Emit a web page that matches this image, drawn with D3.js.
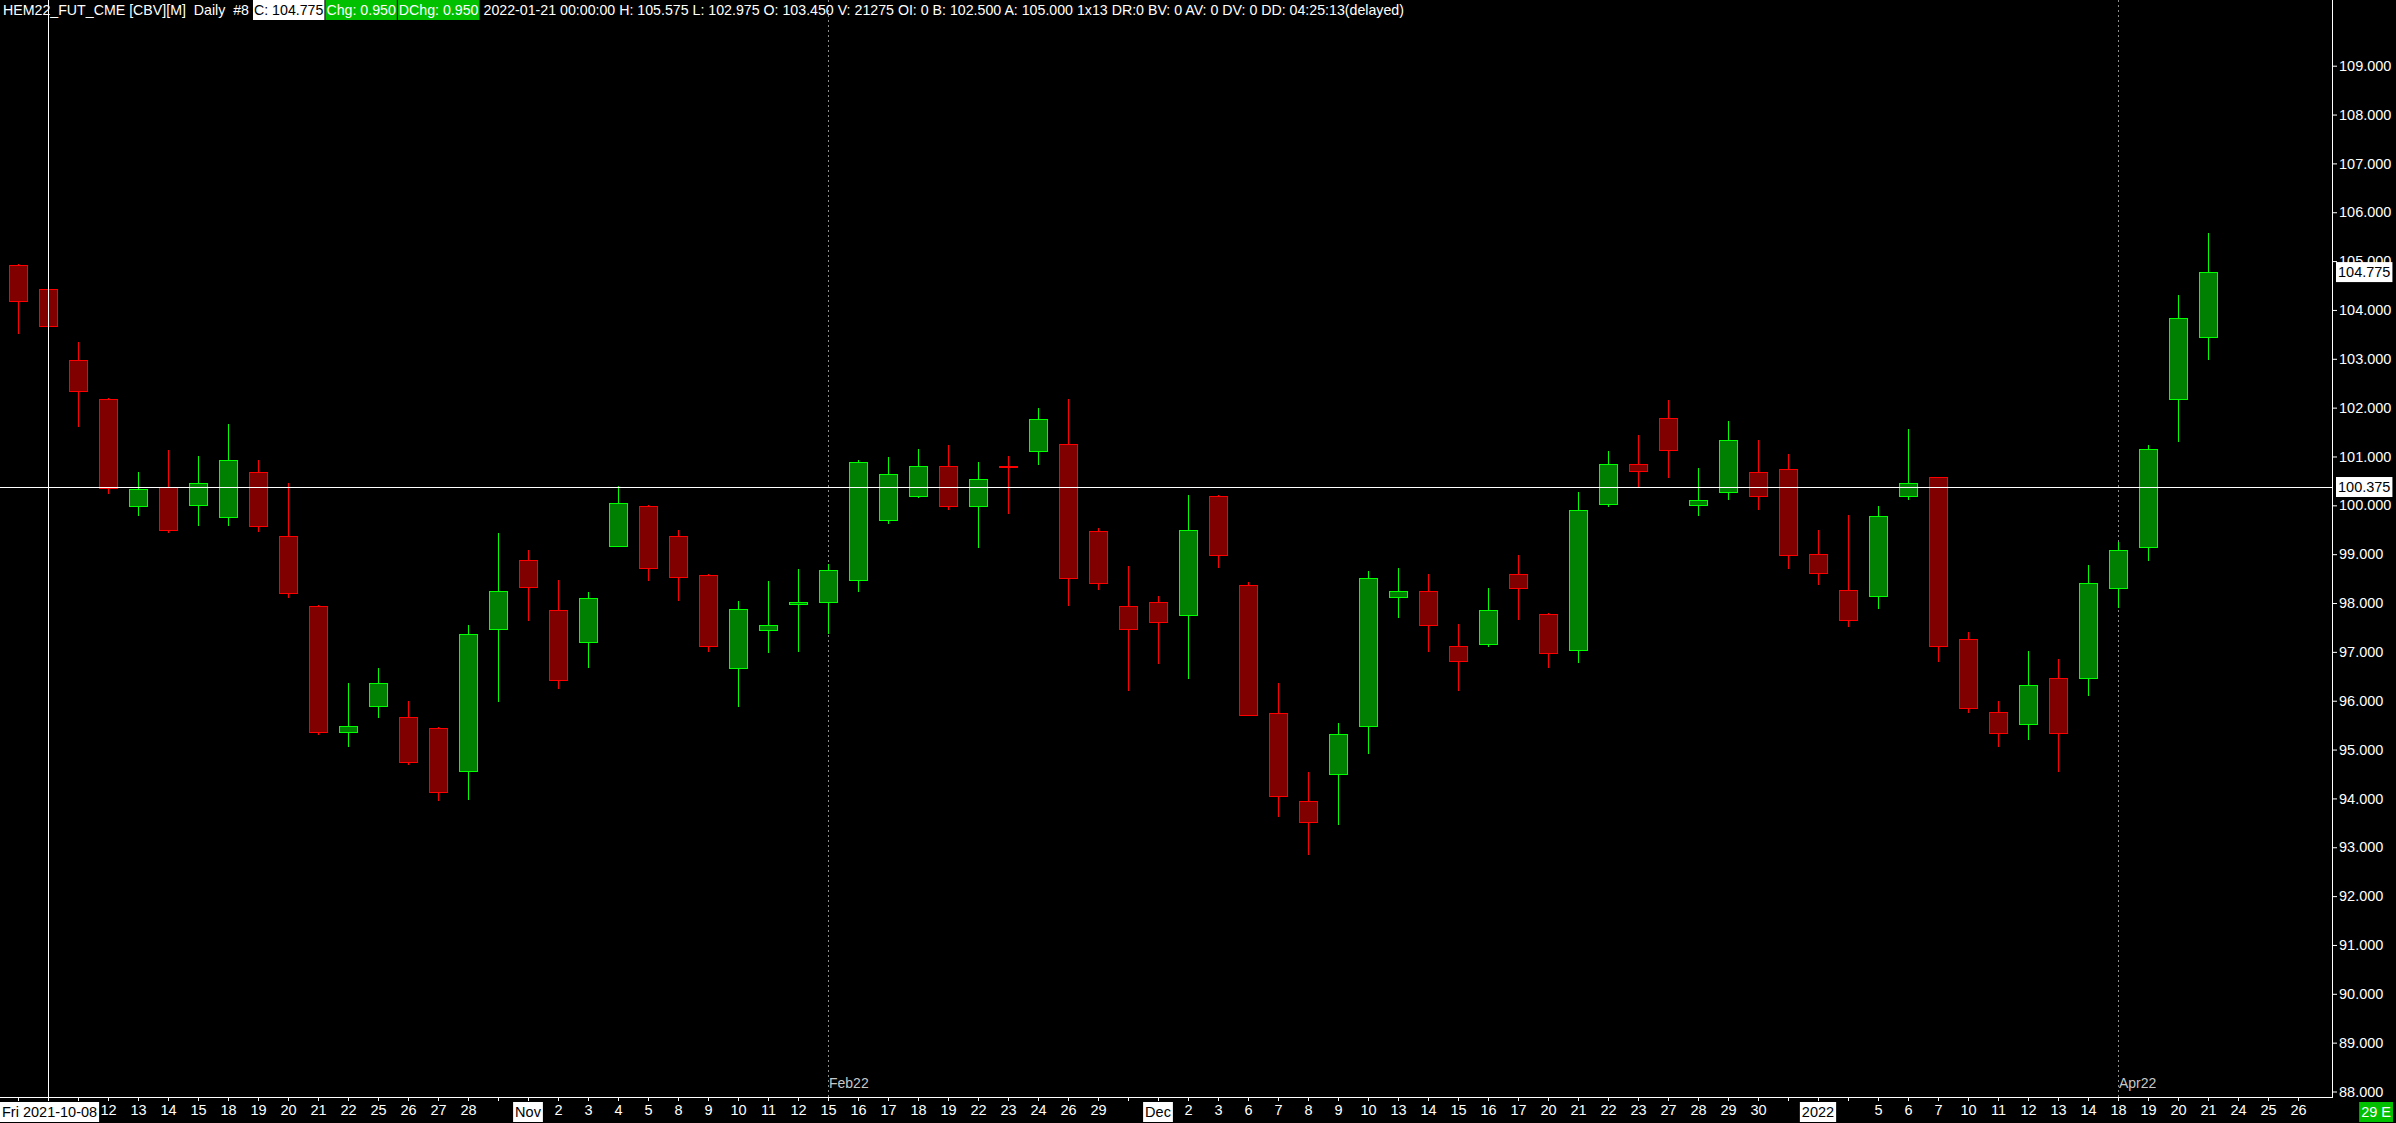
<!DOCTYPE html>
<html>
<head>
<meta charset="utf-8">
<script src="https://cdn.jsdelivr.net/npm/d3@7"></script>
<style>
  body { margin: 0; background: #000; overflow: hidden; }
  text { font-family: "Liberation Sans", Arial, sans-serif; font-size: 14.5px; fill: #fff; }
  .header text { font-size: 14.2px; }
</style>
</head>
<body>
<div id="chart"></div>
<script>
// trading days shown on the chart
const dates = [
  "2021-10-07", "2021-10-08", "2021-10-11", "2021-10-12", "2021-10-13", "2021-10-14", "2021-10-15",
  "2021-10-18", "2021-10-19", "2021-10-20", "2021-10-21", "2021-10-22", "2021-10-25", "2021-10-26",
  "2021-10-27", "2021-10-28", "2021-10-29", "2021-11-01", "2021-11-02", "2021-11-03", "2021-11-04",
  "2021-11-05", "2021-11-08", "2021-11-09", "2021-11-10", "2021-11-11", "2021-11-12", "2021-11-15",
  "2021-11-16", "2021-11-17", "2021-11-18", "2021-11-19", "2021-11-22", "2021-11-23", "2021-11-24",
  "2021-11-26", "2021-11-29", "2021-11-30", "2021-12-01", "2021-12-02", "2021-12-03", "2021-12-06",
  "2021-12-07", "2021-12-08", "2021-12-09", "2021-12-10", "2021-12-13", "2021-12-14", "2021-12-15",
  "2021-12-16", "2021-12-17", "2021-12-20", "2021-12-21", "2021-12-22", "2021-12-23", "2021-12-27",
  "2021-12-28", "2021-12-29", "2021-12-30", "2021-12-31", "2022-01-03", "2022-01-04", "2022-01-05",
  "2022-01-06", "2022-01-07", "2022-01-10", "2022-01-11", "2022-01-12", "2022-01-13", "2022-01-14",
  "2022-01-18", "2022-01-19", "2022-01-20", "2022-01-21"
];

let openP = [
  104.92, 104.43, 102.97, 102.17, 99.98, 100.37, 100.01, 99.77, 100.68, 99.37,
  97.94, 95.35, 95.90, 95.66, 95.45, 94.57, 97.46, 98.88, 97.85, 97.21,
  99.17, 99.98, 99.37, 98.57, 96.66, 97.44, 97.98, 98.03, 98.48, 99.69,
  100.20, 100.80, 99.98, 100.80, 101.12, 101.25, 99.47, 97.93, 98.03, 97.76,
  100.20, 98.36, 95.74, 93.94, 94.49, 95.49, 98.12, 98.24, 97.13, 97.17,
  98.59, 97.77, 97.03, 100.03, 100.84, 101.78, 100.01, 100.27, 100.69, 100.75,
  99.01, 98.26, 98.15, 100.20, 100.57, 97.26, 95.76, 95.52, 96.47, 96.46,
  98.30, 99.14, 102.17, 103.45
];
let highP = [
  104.95, 104.85, 103.34, 102.20, 100.69, 101.13, 101.01, 101.66, 100.93, 100.46,
  97.96, 96.37, 96.67, 95.99, 95.47, 97.55, 99.43, 99.08, 98.47, 98.22,
  100.40, 100.01, 99.50, 98.59, 98.04, 98.45, 98.70, 98.79, 100.93, 100.99,
  101.15, 101.24, 100.89, 101.01, 101.99, 102.18, 99.54, 98.76, 98.14, 100.21,
  100.22, 98.43, 96.37, 94.54, 95.54, 98.66, 98.72, 98.60, 97.57, 98.31,
  98.98, 97.79, 100.27, 101.11, 101.44, 102.15, 100.76, 101.73, 101.34, 101.05,
  99.49, 99.80, 99.99, 101.56, 100.59, 97.41, 95.99, 97.02, 96.86, 98.78,
  99.24, 101.23, 104.30, 105.575
];
let lowP = [
  103.51, 103.60, 101.61, 100.24, 99.79, 99.44, 99.58, 99.58, 99.46, 98.11,
  95.29, 95.05, 95.64, 94.68, 93.95, 93.97, 95.98, 97.64, 96.25, 96.68,
  99.15, 98.46, 98.05, 97.00, 95.88, 96.97, 97.00, 97.37, 98.23, 99.62,
  100.16, 99.90, 99.13, 99.83, 100.83, 97.93, 98.26, 96.19, 96.76, 96.45,
  98.71, 95.68, 93.62, 92.84, 93.45, 94.90, 97.70, 97.00, 96.19, 97.10,
  97.66, 96.68, 96.78, 99.96, 100.38, 100.55, 99.79, 100.10, 99.90, 98.70,
  98.37, 97.50, 97.87, 100.11, 96.79, 95.74, 95.06, 95.19, 94.55, 96.09,
  97.89, 98.87, 101.30, 102.975
];
let closeP = [
  104.19, 103.68, 102.35, 100.35, 100.33, 99.49, 100.45, 100.92, 99.57, 98.20,
  95.35, 95.49, 96.36, 94.74, 94.13, 97.36, 98.24, 98.32, 96.42, 98.11,
  100.04, 98.71, 98.54, 97.11, 97.87, 97.54, 98.03, 98.67, 100.88, 100.65,
  100.80, 99.98, 100.53, 100.79, 101.76, 98.52, 98.42, 97.46, 97.62, 99.49,
  98.99, 95.71, 94.04, 93.52, 95.32, 98.52, 98.24, 97.56, 96.81, 97.85,
  98.30, 96.98, 99.91, 100.84, 100.71, 101.14, 100.11, 101.33, 100.20, 98.98,
  98.62, 97.65, 99.78, 100.45, 97.13, 95.86, 95.33, 96.33, 95.33, 98.40,
  99.09, 101.16, 103.83, 104.775
];

// bottom axis labels, one per slot (empty = hidden by the software)
let tickLabels = [
  "", "", "", "12", "13", "14", "15", "18", "19", "20", "21", "22", "25", "26", "27", "28", "",
  "", "2", "3", "4", "5", "8", "9", "10", "11", "12", "15", "16", "17", "18", "19", "22", "23", "24", "26", "29", "",
  "", "2", "3", "6", "7", "8", "9", "10", "13", "14", "15", "16", "17", "20", "21", "22", "23", "27", "28", "29", "30", "",
  "", "", "5", "6", "7", "10", "11", "12", "13", "14", "18", "19", "20", "21", "24", "25", "26"
];
let boxSlots = [1, 17, 38, 60];
let boxTexts = ["Fri 2021-10-08", "Nov", "Dec", "2022"];
let expirySlots = [27, 70];
let expiryTexts = ["Feb22", "Apr22"];
let priceTicks = d3.range(88, 110);
let lastPrice = 104.775;
let crossPrice = 100.375;
let crossSlot = 1;

let headerParts = [
  "HEM22_FUT_CME [CBV][M]  Daily  #8",
  "C: 104.775",
  "Chg: 0.950",
  "DChg: 0.950",
  "2022-01-21 00:00:00 H: 105.575 L: 102.975 O: 103.450 V: 21275 OI: 0 B: 102.500 A: 105.000 1x13 DR:0 BV: 0 AV: 0 DV: 0 DD: 04:25:13(delayed)"
];

// sizes
let width = 2396;
let height = 1123;
let plotRight = 2332;
let plotBottom = 1097;
let bodyHalf = 9;

let svg = d3
  .select("#chart")
  .append("svg")
  .attr("width", width)
  .attr("height", height)
  .style("background", "#000");

let xScale = d3.scaleLinear().domain([0, 76]).range([18, 2298]);
let yScale = d3.scaleLinear().domain([88, 109]).range([1091.5, 65.7]);

let px = v => Math.round(v) + 0.5;

// expiry markers (dotted)
expirySlots.forEach(function(s, k) {
  svg.append("line")
    .attr("x1", px(xScale(s))).attr("x2", px(xScale(s)))
    .attr("y1", 0).attr("y2", plotBottom)
    .attr("stroke", "#8a8a8a")
    .attr("stroke-dasharray", "2,3");
  svg.append("text")
    .attr("x", xScale(s) + 1)
    .attr("y", plotBottom - 9)
    .style("fill", "#c8c8c8")
    .style("font-size", "14px")
    .text(expiryTexts[k]);
});

// candles
let candles = dates.map(function(d, i) {
  return { i: i, o: openP[i], h: highP[i], l: lowP[i], c: closeP[i] };
});

let g = svg.append("g").attr("class", "candles");
let cg = g.selectAll("g").data(candles).join("g");

cg.append("line")
  .attr("x1", d => px(xScale(d.i)))
  .attr("x2", d => px(xScale(d.i)))
  .attr("y1", d => Math.round(yScale(d.h)))
  .attr("y2", d => Math.round(yScale(d.l)))
  .attr("stroke", d => (d.c > d.o ? "#00ff00" : "#ff0000"))
  .attr("stroke-width", 1);

cg.append("rect")
  .attr("x", d => Math.round(xScale(d.i)) - bodyHalf + 0.5)
  .attr("width", bodyHalf * 2)
  .attr("y", d => px(yScale(Math.max(d.o, d.c))))
  .attr("height", d => Math.max(1, Math.round(yScale(Math.min(d.o, d.c))) - Math.round(yScale(Math.max(d.o, d.c)))))
  .attr("fill", d => (d.c > d.o ? "#008000" : "#800000"))
  .attr("stroke", d => (d.c > d.o ? "#00ff00" : "#ff0000"))
  .attr("stroke-width", 1);

// crosshair
svg.append("line")
  .attr("x1", 0).attr("x2", plotRight)
  .attr("y1", px(yScale(crossPrice))).attr("y2", px(yScale(crossPrice)))
  .attr("stroke", "#fff");
svg.append("line")
  .attr("x1", px(xScale(crossSlot))).attr("x2", px(xScale(crossSlot)))
  .attr("y1", 0).attr("y2", plotBottom)
  .attr("stroke", "#fff");

// right price axis
let yAxis = d3.axisRight(yScale)
  .tickValues(priceTicks)
  .tickFormat(d3.format(".3f"))
  .tickSize(5)
  .tickPadding(2);

svg.append("g")
  .attr("transform", `translate(${plotRight},0)`)
  .call(yAxis)
  .call(a => a.select(".domain").remove())
  .call(a => a.selectAll("line").attr("stroke", "#fff"))
  .call(a => a.selectAll("text").attr("fill", "#fff").style("font-family", null).style("font-size", null));

// bottom date axis
let xAxis = d3.axisBottom(xScale)
  .tickValues(d3.range(77))
  .tickFormat(i => tickLabels[i])
  .tickSize(4)
  .tickPadding(4);

svg.append("g")
  .attr("transform", `translate(0,${plotBottom})`)
  .call(xAxis)
  .call(a => a.select(".domain").remove())
  .call(a => a.selectAll("line").attr("stroke", "#fff"))
  .call(a => a.selectAll("text").attr("fill", "#fff").style("font-family", null).style("font-size", null));

// axis frame
svg.append("line")
  .attr("x1", plotRight + 0.5).attr("x2", plotRight + 0.5)
  .attr("y1", 0).attr("y2", plotBottom + 1)
  .attr("stroke", "#fff");
svg.append("line")
  .attr("x1", 0).attr("x2", plotRight + 1)
  .attr("y1", plotBottom + 0.5).attr("y2", plotBottom + 0.5)
  .attr("stroke", "#fff");

// boxed labels helper
function boxLabel(x, yMid, txt, fill, color, anchor) {
  let grp = svg.append("g");
  let t = grp.append("text")
    .attr("y", yMid)
    .attr("dy", "0.35em")
    .style("fill", color)
    .text(txt);
  let w = t.node().getComputedTextLength() + 4;
  let left = anchor === "middle" ? x - w / 2 : anchor === "end" ? x - w : x;
  if (left < 0) left = 0;
  t.attr("x", left + 2);
  grp.insert("rect", "text")
    .attr("x", left).attr("y", yMid - 10)
    .attr("width", w).attr("height", 20)
    .attr("fill", fill);
}

boxSlots.forEach(function(s, k) {
  boxLabel(xScale(s), 1112, boxTexts[k], "#fff", "#000", "middle");
});
boxLabel(2393, 1112, "29 E", "#00c000", "#fff", "end");

// price flags on the axis
[lastPrice, crossPrice].forEach(function(p) {
  boxLabel(plotRight + 4, yScale(p), d3.format(".3f")(p), "#fff", "#000", "start");
});

// header line
let header = svg.append("g").attr("class", "header");
let hx = 3;
headerParts.forEach(function(txt, k) {
  let boxed = k >= 1 && k <= 3;
  let grp = header.append("g");
  let t = grp.append("text")
    .attr("x", hx + (boxed ? 1 : 0))
    .attr("y", 15)
    .style("fill", k === 1 ? "#000" : "#fff")
    .style("white-space", "pre")
    .text(txt);
  let w = t.node().getComputedTextLength() + (boxed ? 2 : 0);
  if (boxed) {
    grp.insert("rect", "text")
      .attr("x", hx).attr("y", 0)
      .attr("width", w).attr("height", 20)
      .attr("fill", k === 1 ? "#fff" : "#00c000");
  }
  hx += w + (k === 0 ? 4 : k === 3 ? 4 : 1);
});
</script>
</body>
</html>
